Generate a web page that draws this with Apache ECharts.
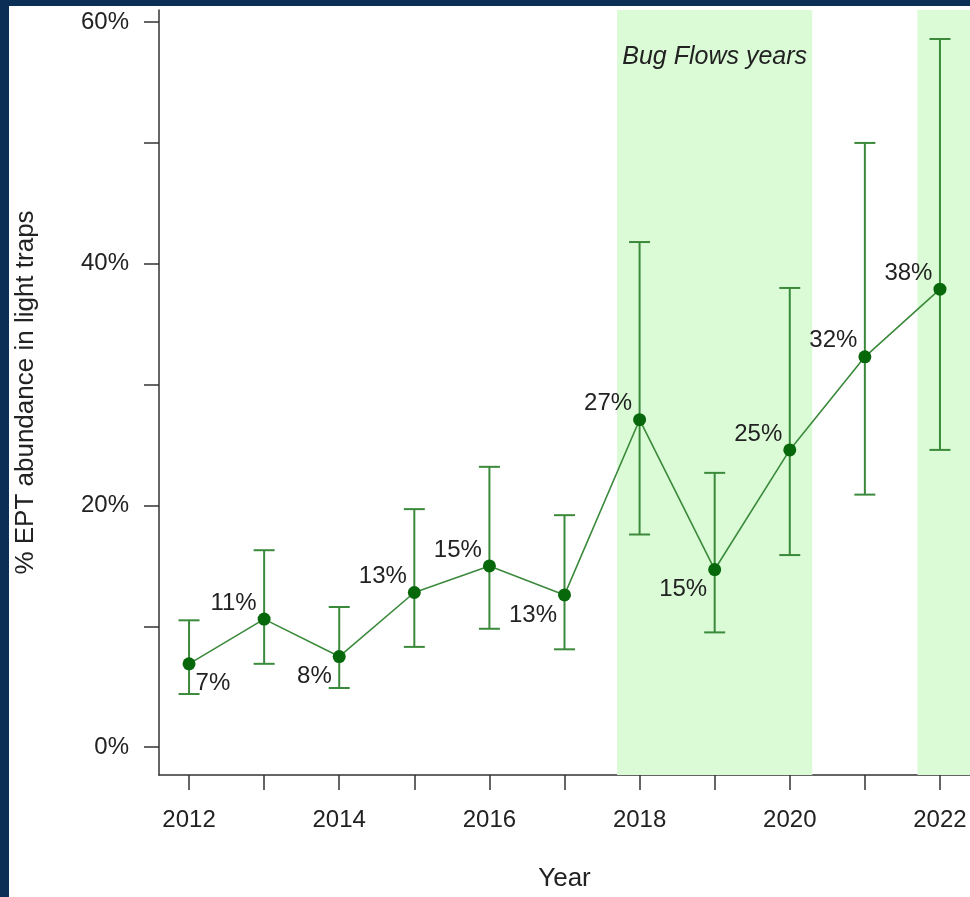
<!DOCTYPE html>
<html>
<head>
<meta charset="utf-8">
<title>% EPT abundance in light traps</title>
<script src="https://cdn.jsdelivr.net/npm/echarts@6/dist/echarts.min.js"></script>
<style>
  html, body { margin: 0; padding: 0; background: #ffffff; overflow: hidden; }
  #chart { width: 970px; height: 897px; }
</style>
</head>
<body>
<div id="chart"></div>
<script>
// Yearly mean % EPT abundance with lower / upper interval bounds
const years = [2012, 2013, 2014, 2015, 2016, 2017, 2018, 2019, 2020, 2021, 2022];
const pct   = [6.9, 10.6, 7.5, 12.8, 15.0, 12.6, 27.1, 14.7, 24.6, 32.3, 37.9];
const lower = [4.4, 6.9, 4.9, 8.3, 9.8, 8.1, 17.6, 9.5, 15.9, 20.9, 24.6];
const upper = [10.5, 16.3, 11.6, 19.7, 23.2, 19.2, 41.8, 22.7, 38.0, 50.0, 58.6];

// Bug Flows experiment periods (shaded)
const bugFlowSpans = [[2017.7, 2020.3], [2021.7, 2022.4]];
const bandLabel = 'Bug Flows years';

// Axis ticks and labels
const yTicks = [0, 10, 20, 30, 40, 50, 60];
const yTickLabels = [0, 20, 40, 60];
const xTicks = years;
const xTickLabels = [2012, 2014, 2016, 2018, 2020, 2022];

// Where each value label sits relative to its point
const labelSide = ['rb', 'la', 'lb', 'la', 'la', 'lb', 'la', 'lb', 'la', 'la', 'la'];

const FONT = '"Liberation Sans", Arial, Helvetica, sans-serif';
const TEXT = '#222222';
const LINE_GREEN = '#3b8a3b';
const DOT_GREEN = '#07680b';

const el = document.getElementById('chart');
const chart = echarts.init(el, null, { renderer: 'canvas' });
const H = el.clientHeight;

const pointData = years.map((y, i) => {
  const side = labelSide[i];
  const label = side === 'rb'
    ? { position: 'right', distance: 0, offset: [0, 20] }
    : side === 'lb'
      ? { position: 'left', distance: 1, offset: [0, 20] }
      : { position: 'left', distance: 1, offset: [0, -16] };
  return { value: [y, pct[i]], label };
});

const barData = years.map((y, i) => [y, lower[i], upper[i]]);

const option = {
  animation: false,
  backgroundColor: '#ffffff',
  textStyle: { fontFamily: FONT },
  grid: { left: 159, right: 0, top: 10, height: 769, containLabel: false },
  xAxis: {
    type: 'value',
    min: 2011.6,
    max: 2022.4,
    name: 'Year',
    nameLocation: 'middle',
    nameGap: 91,
    nameTextStyle: { fontFamily: FONT, fontSize: 26, color: TEXT },
    axisLine: { show: true, onZero: false, lineStyle: { color: '#333333', width: 1.5 } },
    axisTick: { show: true, length: 15, customValues: xTicks, lineStyle: { color: '#333333', width: 1.5 } },
    axisLabel: {
      customValues: xTickLabels,
      margin: 33,
      fontFamily: FONT, fontSize: 24, color: TEXT,
      formatter: v => String(v)
    },
    splitLine: { show: false }
  },
  yAxis: {
    type: 'value',
    min: -2.3,
    max: 61.0,
    name: '% EPT abundance in light traps',
    nameLocation: 'middle',
    nameGap: 120,
    nameTextStyle: { fontFamily: FONT, fontSize: 26, color: TEXT },
    axisLine: { show: true, onZero: false, lineStyle: { color: '#333333', width: 1.5 } },
    axisTick: { show: true, length: 15, customValues: yTicks, lineStyle: { color: '#333333', width: 1.5 } },
    axisLabel: {
      customValues: yTickLabels,
      margin: 30,
      fontFamily: FONT, fontSize: 24, color: TEXT,
      formatter: v => v + '%'
    },
    splitLine: { show: false }
  },
  series: [
    {
      // shaded Bug Flows periods
      type: 'line',
      data: [],
      silent: true,
      z: 1,
      markArea: {
        silent: true,
        itemStyle: { color: '#dafbd6' },
        data: bugFlowSpans.map((s, i) => [
          {
            xAxis: s[0],
            label: i === 0
              ? { show: true, formatter: bandLabel, position: 'insideTop', distance: 35,
                  fontFamily: FONT, fontSize: 25, fontStyle: 'italic', color: TEXT }
              : { show: false }
          },
          { xAxis: s[1] }
        ])
      }
    },
    {
      // interval bars with caps
      type: 'custom',
      z: 2,
      data: barData,
      renderItem: (params, api) => {
        const x = api.value(0);
        const lo = api.coord([x, api.value(1)]);
        const hi = api.coord([x, api.value(2)]);
        const half = 10.5;
        const style = { stroke: LINE_GREEN, lineWidth: 2 };
        return {
          type: 'group',
          children: [
            { type: 'line', shape: { x1: lo[0], y1: lo[1], x2: hi[0], y2: hi[1] }, style },
            { type: 'line', shape: { x1: lo[0] - half, y1: lo[1], x2: lo[0] + half, y2: lo[1] }, style },
            { type: 'line', shape: { x1: hi[0] - half, y1: hi[1], x2: hi[0] + half, y2: hi[1] }, style }
          ]
        };
      }
    },
    {
      // yearly means
      type: 'line',
      z: 3,
      data: pointData,
      symbol: 'circle',
      symbolSize: 13,
      lineStyle: { color: LINE_GREEN, width: 1.6 },
      itemStyle: { color: DOT_GREEN },
      label: {
        show: true,
        fontFamily: FONT,
        fontSize: 24,
        color: TEXT,
        formatter: p => Math.round(p.value[1]) + '%'
      }
    }
  ],
  graphic: [
    { type: 'rect', left: 0, top: 0, shape: { width: 9, height: H }, style: { fill: '#0b2e57' }, z: 100 },
    { type: 'rect', left: 0, top: 0, shape: { width: 970, height: 6 }, style: { fill: '#0b2e57' }, z: 100 }
  ]
};

chart.setOption(option);
</script>
</body>
</html>
